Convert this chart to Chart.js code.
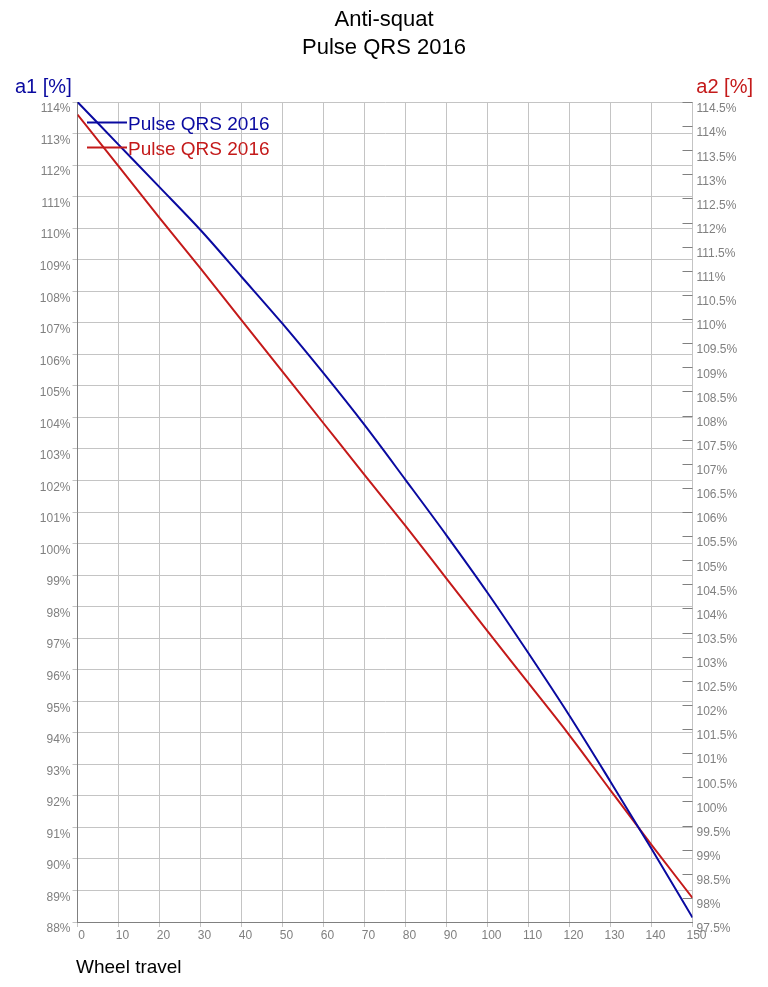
<!DOCTYPE html>
<html>
<head>
<meta charset="utf-8">
<script src="https://cdn.jsdelivr.net/npm/chart.js@4/dist/chart.umd.min.js"></script>
<style>
  html, body { margin: 0; padding: 0; background: #fff; }
  #wrap { width: 768px; height: 987px; }
</style>
</head>
<body>
<div id="wrap"><canvas id="chart"></canvas></div>
<script>
// wheel travel (x) and the two anti-squat series
const travel = [0, 10, 20, 30, 40, 50, 60, 70, 80, 90, 100, 110, 120, 130, 140, 150];
const a1Values = [114.0, 112.65, 111.3, 109.94, 108.46, 106.97, 105.4, 103.76, 102.02, 100.26, 98.44, 96.52, 94.54, 92.45, 90.32, 88.14];
const a2Values = [114.24, 113.17, 112.1, 111.05, 109.98, 108.91, 107.84, 106.77, 105.71, 104.62, 103.53, 102.45, 101.37, 100.23, 99.1, 98.0];
const seriesNames = ['Pulse QRS 2016', 'Pulse QRS 2016'];

const BLUE = '#0a0aa0';
const RED = '#c41a1a';
const FONT = '"Liberation Sans", Arial, sans-serif';

// titles, axis captions and the legend drawn on top
const decorPlugin = {
    id: 'decor',
    afterDraw(chart) {
        const ctx = chart.ctx;
        const area = chart.chartArea;
        ctx.save();
        ctx.textAlign = 'center';
        ctx.textBaseline = 'alphabetic';
        ctx.fillStyle = '#000';
        ctx.font = '22px ' + FONT;
        ctx.fillText('Anti-squat', 384, 26);
        ctx.fillText('Pulse QRS 2016', 384, 54);

        ctx.font = '20px ' + FONT;
        ctx.textAlign = 'left';
        ctx.fillStyle = BLUE;
        ctx.fillText('a1 [%]', 15, 93);
        ctx.textAlign = 'right';
        ctx.fillStyle = RED;
        ctx.fillText('a2 [%]', 753, 93);

        ctx.textAlign = 'left';
        ctx.fillStyle = '#000';
        ctx.font = '19px ' + FONT;
        ctx.fillText('Wheel travel', 76, 973);

        // inward tick marks of the right axis
        const yr = chart.scales.yRight;
        ctx.strokeStyle = '#808080';
        ctx.lineWidth = 1;
        yr.ticks.forEach(t => {
            const y = Math.round(yr.getPixelForValue(t.value)) + 0.5;
            ctx.beginPath();
            ctx.moveTo(area.right - 10, y);
            ctx.lineTo(area.right, y);
            ctx.stroke();
        });

        // legend
        const colors = [BLUE, RED];
        const rows = [122.5, 147.5];
        ctx.font = '19px ' + FONT;
        rows.forEach((y, i) => {
            ctx.strokeStyle = colors[i];
            ctx.lineWidth = 2;
            ctx.beginPath();
            ctx.moveTo(87, y);
            ctx.lineTo(127, y);
            ctx.stroke();
            ctx.fillStyle = colors[i];
            ctx.fillText(seriesNames[i], 128, y + 7);
        });
        ctx.restore();
    }
};

const ctx = document.getElementById('chart').getContext('2d');
new Chart(ctx, {
    type: 'line',
    data: {
        datasets: [{
            label: seriesNames[0],
            data: travel.map((x, i) => ({ x: x, y: a1Values[i] })),
            borderColor: BLUE,
            borderWidth: 2,
            pointRadius: 0,
            cubicInterpolationMode: 'monotone',
            yAxisID: 'yLeft'
        }, {
            label: seriesNames[1],
            data: travel.map((x, i) => ({ x: x, y: a2Values[i] })),
            borderColor: RED,
            borderWidth: 2,
            pointRadius: 0,
            cubicInterpolationMode: 'monotone',
            yAxisID: 'yRight'
        }]
    },
    options: {
        responsive: true,
        maintainAspectRatio: false,
        animation: false,
        layout: { padding: { top: 102, left: 0, right: 0, bottom: 0 } },
        plugins: {
            legend: { display: false },
            title: { display: false },
            tooltip: { enabled: false }
        },
        scales: {
            x: {
                type: 'linear',
                min: 0,
                max: 150,
                ticks: { stepSize: 10, color: '#808080', font: { size: 12, family: FONT }, padding: 1, labelOffset: 4, maxRotation: 0 },
                grid: { color: '#c4c4c4', tickLength: 5 },
                border: { color: '#808080' },
                afterFit(scale) { scale.height = 65; }
            },
            yLeft: {
                position: 'left',
                min: 88,
                max: 114,
                ticks: { stepSize: 1, color: '#808080', font: { size: 12, family: FONT }, padding: 2, labelOffset: 7, callback: v => v + '%' },
                grid: { color: '#c4c4c4', tickLength: 5 },
                border: { color: '#808080' },
                afterFit(scale) { scale.width = 77.5; }
            },
            yRight: {
                position: 'right',
                min: 97.5,
                max: 114.5,
                ticks: { stepSize: 0.5, color: '#808080', font: { size: 12, family: FONT }, padding: 4, labelOffset: 7, callback: v => v + '%' },
                grid: { display: true, drawOnChartArea: false, drawTicks: false },
                border: { display: false },
                afterFit(scale) { scale.width = 75.5; }
            }
        }
    },
    plugins: [decorPlugin]
});
</script>
</body>
</html>
